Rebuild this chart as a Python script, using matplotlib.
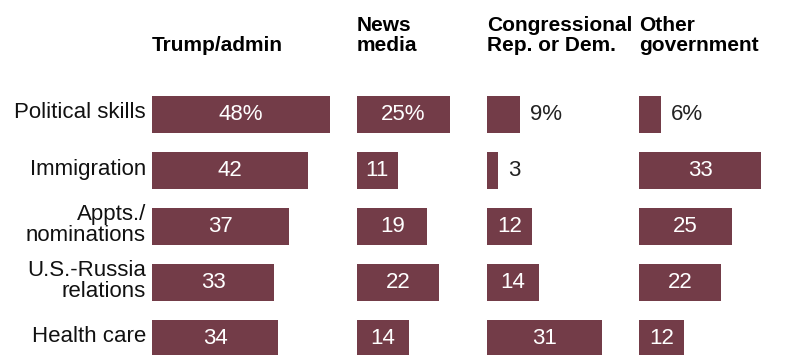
import matplotlib.pyplot as plt

# values
topics = ['Political skills', 'Immigration', 'Appts./\nnominations',
          'U.S.-Russia\nrelations', 'Health care']
headers = ['Trump/admin', 'News\nmedia', 'Congressional\nRep. or Dem.', 'Other\ngovernment']
trump_admin = [48, 42, 37, 33, 34]
news_media = [25, 11, 19, 22, 14]
congress = [9, 3, 12, 14, 31]
other_gov = [6, 33, 25, 22, 12]

series = [trump_admin, news_media, congress, other_gov]
bar_color = '#733c48'

W, H = 791, 355
fig = plt.figure(figsize=(W / 100, H / 100), dpi=100)

panel_left = [152, 357, 487, 639]   # pixel x of each panel's baseline
px_per_unit = 3.71
xmax = 50
row_gap = 56
top_px = 95                          # top edge of first bar row
ax_h = H - top_px

label_font = 'Liberation Sans'

for i, (vals, head) in enumerate(zip(series, headers)):
    left = panel_left[i]
    ax = fig.add_axes([left / W, 0, xmax * px_per_unit / W, ax_h / H])
    ax.set_xlim(0, xmax)
    span = ax_h / row_gap
    ax.set_ylim(span - 0.34, -0.34)
    ax.axis('off')
    ax.barh(range(len(vals)), vals, height=0.66, color=bar_color)
    for j, v in enumerate(vals):
        txt = f'{v}%' if j == 0 else str(v)
        if v < 10:
            ax.text(v + 10 / px_per_unit, j, txt, ha='left', va='center',
                    color='#222222', fontsize=16, family=label_font)
        else:
            ax.text(v / 2, j, txt, ha='center', va='center',
                    color='white', fontsize=16, family=label_font)
    # column header, bottom-aligned
    fig.text(left / W, 1 - 51 / H, head, ha='left', va='baseline',
             fontsize=15, fontweight='bold', family=label_font,
             linespacing=1.05)

# row labels on the left
for j, t in enumerate(topics):
    y = 113 + j * row_gap
    fig.text(146 / W, 1 - y / H, t, ha='right', va='center',
             fontsize=16, family=label_font, color='#111111', linespacing=1.05)

fig.savefig('out.png', dpi=100)
